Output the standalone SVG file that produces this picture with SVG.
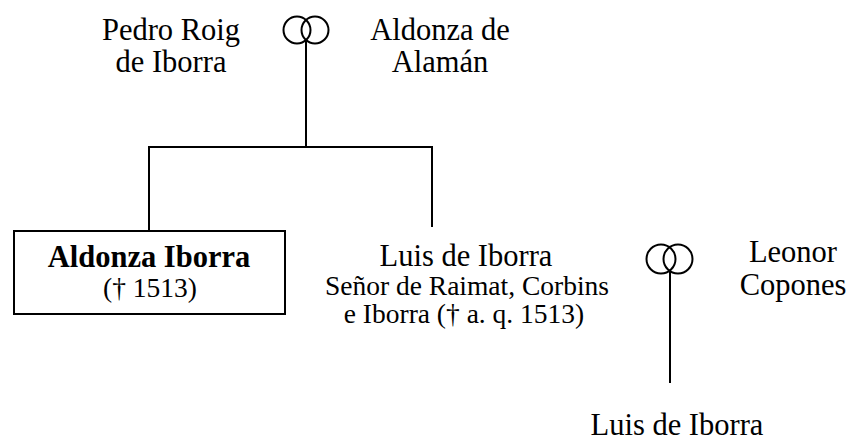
<svg xmlns="http://www.w3.org/2000/svg" width="852" height="441" viewBox="0 0 852 441">
<style>
text{font-family:"Liberation Serif","Times New Roman",serif;fill:#000;text-anchor:middle}
.n{font-size:30.5px}
.s{font-size:27.5px}
.b{font-weight:bold}
.ln{stroke:#000;stroke-width:2;fill:none}
</style>
<rect width="852" height="441" fill="#fff"/>
<g id="connectors">
<circle class="ln" cx="297" cy="30" r="13.5"/>
<circle class="ln" cx="315" cy="30" r="13.5"/>
<line class="ln" x1="306" y1="40" x2="306" y2="147"/>
<line class="ln" x1="148" y1="147" x2="433" y2="147"/>
<line class="ln" x1="149" y1="146" x2="149" y2="230"/>
<line class="ln" x1="432" y1="146" x2="432" y2="227"/>
<circle class="ln" cx="661" cy="259" r="14.5"/>
<circle class="ln" cx="678" cy="259" r="14.5"/>
<line class="ln" x1="670" y1="270" x2="670" y2="383"/>
</g>
<g id="pedro"><text class="n" x="171" y="40">Pedro Roig</text><text class="n" x="171" y="72">de Iborra</text></g>
<g id="aldonza-alaman"><text class="n" x="440" y="40">Aldonza de</text><text class="n" x="440" y="72">Alamán</text></g>
<g id="aldonza-iborra"><rect class="ln" x="14" y="231" width="271" height="83"/><text class="n b" x="149" y="267">Aldonza Iborra</text><text class="s" x="150" y="297">(† 1513)</text></g>
<g id="luis"><text class="n" x="466" y="266">Luis de Iborra</text><text class="s" x="467" y="295">Señor de Raimat, Corbins</text><text class="s" x="464" y="323">e Iborra († a. q. 1513)</text></g>
<g id="leonor"><text class="n" x="793" y="262">Leonor</text><text class="n" x="793" y="295">Copones</text></g>
<g id="luis2"><text class="n" x="677" y="435">Luis de Iborra</text></g>
</svg>
